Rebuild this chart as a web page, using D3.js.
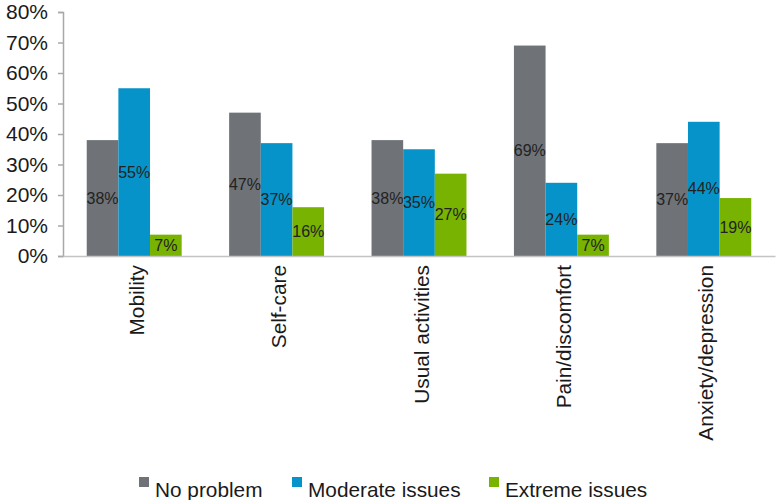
<!DOCTYPE html>
<html><head><meta charset="utf-8">
<script src="https://cdn.jsdelivr.net/npm/d3@7"></script>
<style>body{margin:0;background:#fff}svg{display:block;font-family:"Liberation Sans",Arial,Helvetica,sans-serif}</style>
</head><body><svg id="c" width="778" height="500"></svg>
<script>
const categories = ["Mobility","Self-care","Usual activities","Pain/discomfort","Anxiety/depression"];
const seriesNames = ["No problem","Moderate issues","Extreme issues"];
const noProblem = [38,47,38,69,37];
const moderate = [55,37,35,24,44];
const extreme = [7,16,27,7,19];
const yTicks = [0,10,20,30,40,50,60,70,80];
const colors = ["#6f7378","#0693c9","#77b300"];
const series = [noProblem, moderate, extreme];

const svg = d3.select("#c");
const x0 = d3.scaleBand().domain(categories).range([63,775]).padding(0);
const bw = x0.bandwidth()/4.5;
const x1 = d3.scaleBand().domain(seriesNames).range([(x0.bandwidth()-3*bw)/2,(x0.bandwidth()+3*bw)/2]).padding(0);
const y = d3.scaleLinear().domain([0,80]).range([256,12]);

// bars
categories.forEach((c,i)=>{
  const g = svg.append("g").attr("transform",`translate(${x0(c)},0)`);
  seriesNames.forEach((s,j)=>{
    const v = series[j][i];
    g.append("rect").attr("x",x1(s)).attr("width",x1.bandwidth())
      .attr("y",y(v)).attr("height",y(0)-y(v)).attr("fill",colors[j]);
  });
  seriesNames.forEach((s,j)=>{
    const v = series[j][i];
    g.append("text").attr("x",x1(s)+x1.bandwidth()/2).attr("y",(y(v)+y(0))/2)
      .attr("text-anchor","middle").attr("dominant-baseline","central")
      .attr("font-size",16).attr("fill","#222").text(v+"%");
  });
});

// y axis
const yAxis = d3.axisLeft(y).tickValues(yTicks).tickFormat(d=>d+"%").tickSize(5).tickPadding(10);
const ya = svg.append("g").attr("transform","translate(63,0)").call(yAxis);
ya.select(".domain").attr("stroke","#a8a8a8").attr("stroke-width",1.5);
ya.selectAll(".tick line").attr("stroke","#a8a8a8").attr("stroke-width",1.5);
ya.selectAll(".tick text").attr("font-size",21).attr("fill","#1a1a1a").attr("font-family","inherit");

// x axis
const xAxis = d3.axisBottom(x0).tickSize(0).tickPadding(0);
const xa = svg.append("g").attr("transform","translate(0,256)").call(xAxis);
xa.select(".domain").attr("stroke","#c4c4c4").attr("stroke-width",1.5);
xa.selectAll(".tick text").attr("font-size",20.8).attr("fill","#1a1a1a").attr("font-family","inherit")
  .attr("text-anchor","end").attr("dominant-baseline","central")
  .attr("transform","translate(2,9) rotate(-90)").attr("x",0).attr("y",0).attr("dy",null);

// legend
const legX = [139,292,489];
seriesNames.forEach((s,j)=>{
  svg.append("rect").attr("x",legX[j]).attr("y",477).attr("width",10).attr("height",10).attr("fill",colors[j]);
  svg.append("text").attr("x",legX[j]+16).attr("y",489).attr("font-size",20.8).attr("fill","#1a1a1a")
    .attr("dominant-baseline","central").text(s);
});
</script></body></html>
